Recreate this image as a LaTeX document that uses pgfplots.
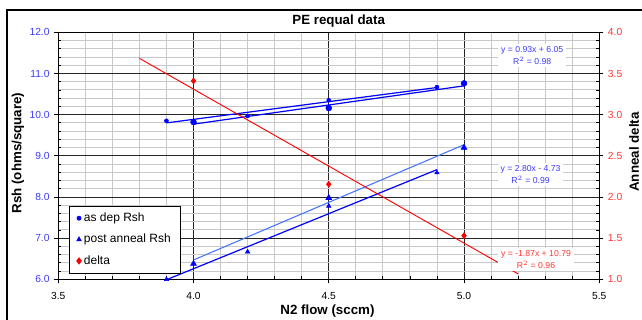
\documentclass[border=0pt]{standalone}
\usepackage{pgfplots}
\pgfplotsset{compat=1.18}
\usepackage{fontspec}
\setmainfont{Liberation Sans}
\definecolor{dblue}{RGB}{0,0,255}
\definecolor{lblue}{RGB}{70,115,255}
\definecolor{tblue}{RGB}{60,60,255}
\definecolor{tred}{RGB}{255,55,55}
\definecolor{mgrid}{RGB}{200,200,200}
\begin{document}
\begin{tikzpicture}[x=1pt,y=1pt]
\begin{axis}[
  at={(43.7pt,30.5pt)}, anchor=south west,
  scale only axis, width=405.75pt, height=185.25pt,
  xmin=3.5, xmax=5.5, ymin=6, ymax=12,
  xtick={3.5,4,4.5,5,5.5}, ytick={6,7,8,9,10,11,12},
  minor x tick num=4, minor y tick num=4,
  grid=both,
  major grid style={black!85, line width=0.6pt},
  minor grid style={mgrid, line width=0.7pt},
  xtick pos=bottom, ytick pos=left,
  tick align=outside,
  major tick length=3pt, minor tick length=-2.2pt,
  tick style={black, line width=0.6pt},
  axis line style={black, line width=0.8pt},
  ticklabel style={font=\fontsize{7.7}{9}\selectfont},
  yticklabel style={text=tblue},
  xticklabel style={yshift=-3pt},
  /pgf/number format/.cd, fixed, fixed zerofill, precision=1, assume math mode=true, /pgfplots/.cd,
  legend style={at={(0.0198,0.0243)}, anchor=south west, draw=black, line width=0.6pt,
    fill=white, font=\fontsize{9}{11}\selectfont, row sep=4pt, inner xsep=5.5pt, inner ysep=3pt},
  legend cell align=left,
]
% as dep Rsh
\addplot[only marks, mark=*, dblue, mark size=1.5pt] coordinates {(3.9,9.85)(4.2,9.97)(4.5,10.35)(4.9,10.67)};
\addlegendentry{as dep Rsh}
\addplot[only marks, mark=*, dblue, mark size=2.2pt, forget plot] coordinates {(4.0,9.82)(4.5,10.16)(5.0,10.76)};
% post anneal Rsh
\addplot[only marks, mark=triangle*, dblue, mark size=1.9pt] coordinates {(3.9,6.00)(4.2,6.67)(4.5,7.78)(4.9,8.59)};
\addlegendentry{post anneal Rsh}
\addplot[only marks, mark=triangle*, dblue, mark size=2.5pt, forget plot] coordinates {(4.0,6.38)(4.5,7.98)(5.0,9.20)};
% fits
\addplot[dblue, line width=0.9pt, forget plot] coordinates {(3.9,9.80)(4.9,10.66)};
\addplot[dblue, line width=0.9pt, forget plot] coordinates {(4.0,9.77)(5.0,10.70)};
\addplot[dblue, line width=0.9pt, forget plot] coordinates {(3.9,5.99)(4.9,8.665)};
\addplot[lblue, line width=0.8pt, forget plot] coordinates {(4.0,6.47)(5.0,9.27)};
\addlegendimage{only marks, mark=diamond*, red, mark size=2.3pt}
\addlegendentry{delta}
\node[fill=white, inner xsep=2pt, inner ysep=1.5pt, align=center, text=tblue,
  font=\fontsize{6.5}{9.5}\selectfont] at (axis cs:5.252,11.44) {y = 0.93x + 6.05\\R$^2$ = 0.98};
\node[fill=white, inner xsep=2pt, inner ysep=1.5pt, align=center, text=tblue,
  font=\fontsize{6.5}{9.5}\selectfont] at (axis cs:5.246,8.55) {y = 2.80x - 4.73\\R$^2$ = 0.99};
\end{axis}
\begin{axis}[
  at={(43.7pt,30.5pt)}, anchor=south west,
  scale only axis, width=405.75pt, height=185.25pt,
  xmin=3.5, xmax=5.5, ymin=1, ymax=4,
  axis y line*=right, axis x line=none,
  ytick={1,1.5,2,2.5,3,3.5,4}, minor y tick num=4,
  tick align=outside,
  major tick length=3pt, minor tick length=-2.2pt,
  tick style={black, line width=0.6pt},
  axis line style={black, line width=0.8pt},
  yticklabel style={text=tred, font=\fontsize{7.7}{9}\selectfont},
  /pgf/number format/.cd, fixed, fixed zerofill, precision=1, assume math mode=true, /pgfplots/.cd,
]
\addplot[red, line width=0.7pt] coordinates {(3.8,3.684)(5.2,1.066)};
\addplot[only marks, mark=diamond*, red, mark size=2.3pt] coordinates {(4.0,3.41)(4.5,2.155)(5.0,1.53)};
\node[fill=white, inner xsep=2pt, inner ysep=1.5pt, align=center, text=tred,
  font=\fontsize{6.5}{9.5}\selectfont] at (axis cs:5.266,1.24) {y = -1.87x + 10.79\\R$^2$ = 0.96};
\end{axis}
\node[font=\fontsize{10}{12}\selectfont\bfseries] at (254pt,224.25pt) {PE requal data};
\node[font=\fontsize{10}{12}\selectfont\bfseries] at (245.6pt,6.75pt) {N2 flow (sccm)};
\node[font=\fontsize{10}{12}\selectfont\bfseries, rotate=90] at (13.5pt,125.25pt) {Rsh (ohms/square)};
\node[font=\fontsize{10}{12}\selectfont\bfseries, rotate=90] at (475.5pt,126pt) {Anneal delta};
\draw[line width=1pt] (5.25pt,-5pt) -- (5.25pt,232.5pt) -- (490pt,232.5pt);
\pgfresetboundingbox
\path[use as bounding box] (0,0) rectangle (481.5pt,240pt);
\end{tikzpicture}
\end{document}
